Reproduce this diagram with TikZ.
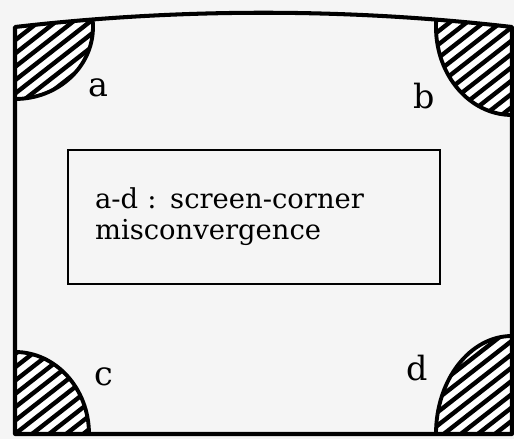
\documentclass[tikz,border=0pt]{standalone}
\usepackage{fontspec}
\setmainfont{DejaVu Serif}

\tikzset{
  screen/.style={line width=2.3pt, line join=round},
  spot/.style={line width=2.2pt},
  hatch/.style={line width=2.5pt},
  corner label/.style={font=\fontsize{19}{22}\selectfont},
}

\begin{document}
\begin{tikzpicture}[x=0.02cm, y=-0.02cm]
      % \draw[help lines, gray!50, very thin] (0,0) grid[step=50] (514,439);
      \fill[black!4] (0,0) rectangle (514,439);

      % hatched corner spots, kept inside the screen
      \begin{scope}
        \clip (15,27) .. controls (180,8) and (347,8) .. (512,27) -- (512,434) -- (15,434) -- cycle;
        \foreach \cx/\cy/\rx/\ry in {15/27/78/72, 512/27/76/88, 15/434/74/82, 512/434/76/98} {
          \begin{scope}
            \clip (\cx,\cy) ellipse [x radius=\rx, y radius=\ry];
            \fill[white] (\cx,\cy) ellipse [x radius=\rx, y radius=\ry];
            \foreach \k in {-14,...,14}
              \draw[hatch, rotate around={38:(\cx,\cy)}] (\cx-160,\cy+\k*10.5) -- (\cx+160,\cy+\k*10.5);
          \end{scope}
          \draw[spot] (\cx,\cy) ellipse [x radius=\rx, y radius=\ry];
        }
      \end{scope}
      \draw[screen] (15,27) .. controls (180,8) and (347,8) .. (512,27) -- (512,434) -- (15,434) -- cycle;

      \node[corner label] (a) at (98,88) {a};
      \node[corner label] (b) at (424,96) {b};
      \node[corner label] (c) at (104,377) {c};
      \node[corner label] (d) at (417,368) {d};

      \node[draw, line width=1.1pt, minimum width=7.44cm, minimum height=2.68cm,
            text width=6.36cm, inner xsep=0.54cm, align=left,
            font=\fontsize{15.6}{17.5}\selectfont] (note) at (254,217)
            {a-d : screen-corner\\misconvergence};
\end{tikzpicture}
\end{document}
